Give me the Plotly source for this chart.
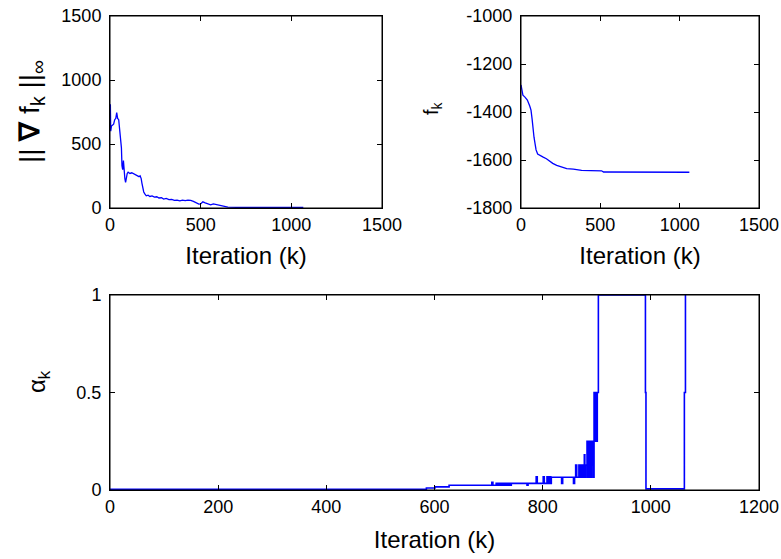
import plotly.graph_objects as go
from plotly.subplots import make_subplots

# gradient norm ||grad f_k||_inf per iteration
grad_k = [0, 2, 4, 8, 14, 20, 26, 32, 37, 42, 48, 52, 56, 60, 63, 66, 70, 74, 78, 82,
          86, 90, 95, 100, 110, 120, 130, 140, 150, 160, 166, 172, 176, 180, 186, 192,
          200, 210, 220, 232, 245, 258, 270, 284, 296, 310, 325, 340, 355, 370, 385,
          400, 415, 430, 445, 460, 475, 490, 500, 512, 525, 540, 555, 570, 585, 600,
          615, 630, 650, 700, 800, 900, 1000, 1066]
grad_v = [610, 810, 600, 640, 650, 655, 690, 700, 745, 700, 690, 640, 580, 490, 470, 330,
          300, 370, 250, 230, 200, 250, 270, 280, 270, 275, 268, 260, 250, 245, 252, 230,
          195, 150, 125, 110, 95, 100, 90, 95, 85, 88, 78, 80, 70, 75, 65, 68, 60, 62, 56,
          62, 58, 62, 60, 52, 42, 30, 32, 48, 40, 35, 25, 32, 28, 22, 15, 12, 7, 5, 5, 4, 4, 4]

# objective value f_k (top-right panel)
f_k = [0, 5, 12, 25, 40, 55, 63, 70, 76, 82, 88, 95, 105, 120, 140, 160, 180, 200, 225,
       255, 288, 330, 382, 440, 508, 520, 1061]
f_v = [-1287, -1305, -1330, -1338, -1350, -1375, -1392, -1430, -1480, -1505, -1530,
       -1558, -1575, -1582, -1588, -1595, -1605, -1614, -1622, -1630, -1636, -1638,
       -1643, -1644, -1645, -1650, -1651]

# step length alpha_k (bottom panel), drawn as steps
alpha_k = [0, 585, 601, 627, 706, 708, 714,
           716, 718, 720, 722, 724, 726, 728, 730, 732, 734, 736, 738, 740, 742, 744,
           771, 773, 788, 790, 801, 803,
           808, 809, 810, 811, 812, 813, 814, 815, 816,
           835, 837, 857, 859, 861, 863, 867, 869, 871, 873, 875, 877, 878, 880,
           882, 883, 885, 886, 887, 888, 889, 890, 891, 892, 893, 894, 895, 896, 897,
           898, 899, 900, 901, 903, 990, 991, 1062, 1064]
alpha_v = [0.004, 0.01, 0.016, 0.024, 0.04, 0.024, 0.034,
           0.024, 0.034, 0.024, 0.034, 0.024, 0.034, 0.024, 0.034, 0.024, 0.034, 0.024,
           0.034, 0.024, 0.034, 0.034,
           0.024, 0.034, 0.068, 0.034, 0.068, 0.034,
           0.068, 0.034, 0.068, 0.034, 0.068, 0.034, 0.068, 0.034, 0.065,
           0.034, 0.065, 0.034, 0.065, 0.128, 0.065, 0.128, 0.065, 0.128, 0.065, 0.128,
           0.18, 0.065, 0.128,
           0.25, 0.065, 0.25, 0.128, 0.25, 0.065, 0.25, 0.065, 0.25, 0.128, 0.25, 0.065,
           0.5, 0.25, 0.5, 0.25, 0.5, 0.25, 0.5, 1, 0.5, 0.006, 0.5, 1]

fig = make_subplots(rows=2, cols=2, specs=[[{}, {}], [{"colspan": 2}, None]])

blue = dict(color="#0000ff", width=1.3)
fig.add_trace(go.Scatter(x=grad_k, y=grad_v, mode="lines", line=blue), row=1, col=1)
fig.add_trace(go.Scatter(x=f_k, y=f_v, mode="lines", line=blue), row=1, col=2)
fig.add_trace(go.Scatter(x=alpha_k, y=alpha_v, mode="lines",
                         line=dict(color="#0000ff", width=1.6, shape="hv")), row=2, col=1)

W, H = 781, 559


def px_x(a, b):
    return [a / W, b / W]


def px_y(top, bottom):
    return [1 - bottom / H, 1 - top / H]


axis_style = dict(showline=True, linecolor="black", linewidth=1, mirror="ticks",
                  ticks="inside", ticklen=5, tickcolor="black", showgrid=False,
                  zeroline=False, tickfont=dict(size=18, color="black"),
                  layer="above traces", automargin=False)
ystyle = dict(axis_style, ticklabelstandoff=4)


def xtitle(gap):
    return dict(text="Iteration (k)", font=dict(size=24, color="black"), standoff=gap)


fig.update_layout(
    width=W, height=H, margin=dict(l=0, r=0, t=0, b=0),
    paper_bgcolor="white", plot_bgcolor="white", showlegend=False,
    font=dict(family="Liberation Sans, Arial, sans-serif", color="black"),
    xaxis=dict(domain=px_x(110, 382), range=[0, 1500], tickvals=[0, 500, 1000, 1500],
               title=xtitle(13), **axis_style),
    yaxis=dict(domain=px_y(16, 208), range=[0, 1500], tickvals=[0, 500, 1000, 1500],
               **ystyle),
    xaxis2=dict(domain=px_x(521, 759), range=[0, 1500], tickvals=[0, 500, 1000, 1500],
                title=xtitle(13), **axis_style),
    yaxis2=dict(domain=px_y(16, 208), range=[-1800, -1000],
                tickvals=[-1800, -1600, -1400, -1200, -1000],
                ticktext=["-1800", "-1600", "-1400", "-1200", "-1000"], **ystyle),
    xaxis3=dict(domain=px_x(110, 759), range=[0, 1200],
                tickvals=[0, 200, 400, 600, 800, 1000, 1200], title=xtitle(15), **axis_style),
    yaxis3=dict(domain=px_y(295, 490), range=[0, 1], tickvals=[0, 0.5, 1],
                ticktext=["0", "0.5", "1"], **ystyle),
)

# box outline drawn above the data, as in the MATLAB figure
for ax in ["x", "x2", "x3"]:
    yax = ax.replace("x", "y")
    fig.add_shape(type="rect", xref=ax + " domain", yref=yax + " domain",
                  x0=0, x1=1, y0=0, y1=1, line=dict(color="black", width=1), layer="above")

# y axis labels, placed by hand like the MATLAB layout
ylabels = [
    ("|| <b>∇</b> f<sub>k</sub> ||<sub>∞</sub>", 32, 112, 28),
    ("f<sub>k</sub>", 433, 108, 20),
    ("α<sub>k</sub>", 38, 382, 24),
]
for txt, x, y, size in ylabels:
    fig.add_annotation(text=txt, x=x / W, y=1 - y / H, xref="paper", yref="paper",
                       showarrow=False, textangle=-90, xanchor="center", yanchor="middle",
                       font=dict(size=size, color="black"))

# drop the browser's default 8px body margin so pixel positions line up
fig.write_html("out.html", config={"displayModeBar": False},
               post_script="document.body.style.margin='0';")
